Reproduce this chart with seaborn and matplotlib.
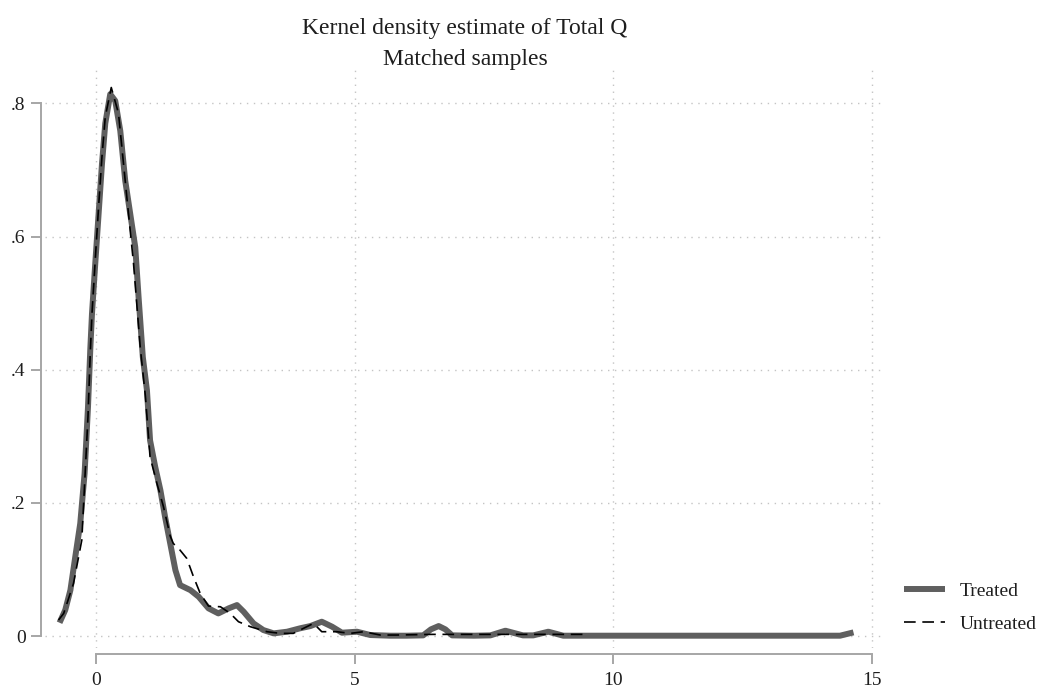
## KERNEL DENSITY OF TOTAL Q - MATCHED SAMPLES
import numpy as np
import pandas as pd
import matplotlib
matplotlib.use('Agg')
import matplotlib.pyplot as plt
import seaborn as sns

## DATA
treated_x = [-0.71, -0.60, -0.50, -0.406, -0.31, -0.226, -0.16, -0.116, -0.083, -0.02, 0.045, 0.11, 0.174,
             0.27, 0.367, 0.464, 0.56, 0.657, 0.754, 0.818, 0.90, 0.98, 1.04, 1.14, 1.24, 1.33, 1.43, 1.53,
             1.62, 1.75, 1.82, 1.98, 2.17, 2.36, 2.56, 2.72, 2.85, 3.04, 3.23, 3.43, 3.69, 3.94, 4.14,
             4.36, 4.56, 4.75, 5.04, 5.30, 5.68, 6.00, 6.32, 6.47, 6.62, 6.75, 6.88, 7.30, 7.62, 7.91,
             8.25, 8.45, 8.74, 9.03, 10.0, 11.0, 12.0, 13.0, 14.0, 14.38, 14.64]
treated_y = [0.020, 0.039, 0.069, 0.119, 0.169, 0.244, 0.344, 0.430, 0.484, 0.559, 0.634, 0.709, 0.770,
             0.814, 0.804, 0.759, 0.684, 0.634, 0.584, 0.509, 0.419, 0.369, 0.294, 0.254, 0.219, 0.179, 0.139,
             0.099, 0.0765, 0.0716, 0.069, 0.059, 0.0416, 0.034, 0.0416, 0.0465, 0.0365, 0.019, 0.009, 0.004,
             0.0065, 0.0116, 0.015, 0.0215, 0.014, 0.005, 0.0065, 0.0015, 0.0005, 0.0005, 0.001, 0.010,
             0.015, 0.010, 0.001, 0.0005, 0.001, 0.008, 0.001, 0.001, 0.0065, 0.0005, 0.0005, 0.0005,
             0.0005, 0.0005, 0.0005, 0.0005, 0.0055]

untreated_x = [-0.73, -0.63, -0.44, -0.28, -0.16, -0.116, -0.083, -0.02, 0.045, 0.11, 0.174, 0.29, 0.43,
               0.59, 0.72, 0.85, 0.95, 1.04, 1.17, 1.30, 1.43, 1.49, 1.62, 1.75, 1.88, 2.01, 2.17, 2.40,
               2.59, 2.75, 2.98, 3.30, 3.56, 3.81, 4.07, 4.20, 4.36, 4.65, 4.91, 5.17, 5.49, 5.81, 6.5,
               7.5, 8.5, 9.49]
untreated_y = [0.024, 0.034, 0.079, 0.144, 0.330, 0.425, 0.484, 0.565, 0.645, 0.720, 0.780, 0.824, 0.785,
               0.660, 0.560, 0.434, 0.360, 0.269, 0.230, 0.194, 0.150, 0.139, 0.129, 0.1166, 0.089, 0.064,
               0.045, 0.044, 0.034, 0.0215, 0.014, 0.0065, 0.004, 0.004, 0.014, 0.019, 0.0065, 0.0065,
               0.004, 0.0065, 0.0015, 0.0015, 0.0025, 0.0025, 0.0025, 0.0025]

x_ticks = [0, 5, 10, 15]
y_ticks = [0, 0.2, 0.4, 0.6, 0.8]
y_tick_labels = ['0', '.2', '.4', '.6', '.8']

df_treated = pd.DataFrame({'x': treated_x, 'y': treated_y})
df_untreated = pd.DataFrame({'x': untreated_x, 'y': untreated_y})

## STYLE
sns.set_style('white')
plt.rcParams['font.family'] = ['Liberation Serif', 'DejaVu Serif']

fig = plt.figure(figsize=(10.48, 6.95), dpi=100)
ax = fig.add_axes([0.043, 0.0676, 0.8015, 0.8314])

#### Curves
sns.lineplot(data=df_treated, x='x', y='y', ax=ax, color='#5f5f5f', linewidth=4.3,
             label='Treated', sort=False)
sns.lineplot(data=df_untreated, x='x', y='y', ax=ax, color='black', linewidth=1.2,
             linestyle=(0, (7, 4)), label='Untreated', sort=False)
for line in ax.get_lines():
    line.set_solid_joinstyle('round')
    line.set_solid_capstyle('butt')

#### Axes format
ax.set_xlim(-0.99, 15.25)
ax.set_ylim(-0.018, 0.85)
ax.set_xticks(x_ticks)
ax.set_yticks(y_ticks)
ax.set_yticklabels(y_tick_labels)
ax.set_xlabel('')
ax.set_ylabel('')
ax.grid(True, color='#c4c4c4', linestyle=(0, (1, 4)), linewidth=1.0)

for side in ['top', 'right']:
    ax.spines[side].set_visible(False)
ax.spines['left'].set_position(('outward', 3))
ax.spines['bottom'].set_position(('outward', 4))
ax.spines['left'].set_bounds(0, 0.8)
ax.spines['bottom'].set_bounds(0, 15)
for side in ['left', 'bottom']:
    ax.spines[side].set_color('#a6a6a6')
    ax.spines[side].set_linewidth(1.4)
ax.tick_params(axis='both', which='major', left=True, bottom=True, length=7, width=1.4,
               color='#a6a6a6', labelsize=14, labelcolor='#1e1e1e')
ax.tick_params(axis='y', pad=4)
ax.tick_params(axis='x', pad=6)

#### Title
ax.set_title('Kernel density estimate of Total Q\nMatched samples', fontsize=17,
             linespacing=1.6, pad=4, color='#1e1e1e')

#### Legend
ax.get_legend().remove()
handles, labels = ax.get_legend_handles_labels()
fig.legend(handles, labels, loc='center left', bbox_to_anchor=(0.855, 0.126),
           frameon=False, fontsize=14, handlelength=2.1, handletextpad=0.75,
           labelspacing=0.8, borderaxespad=0, labelcolor='#1e1e1e')

plt.savefig('out.png', dpi=100)
